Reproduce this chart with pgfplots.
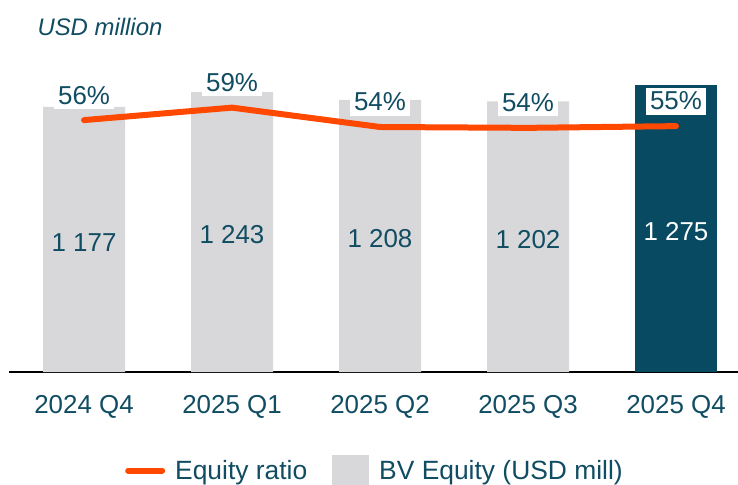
\documentclass[border=0pt]{standalone}
\usepackage{pgfplots}
\pgfplotsset{compat=1.18}
\usepackage{fontspec}
\setmainfont{Liberation Sans}
\definecolor{tealtxt}{RGB}{16,76,98}
\definecolor{darkbar}{RGB}{7,74,97}
\definecolor{graybar}{RGB}{216,216,218}
\definecolor{ratioline}{RGB}{255,72,0}
\begin{document}
\begin{tikzpicture}
\begin{axis}[
  at={(0,0)}, anchor=south west,
  scale only axis, width=729bp, height=300bp,
  xmin=-0.507, xmax=4.419, ymin=0, ymax=1332,
  enlargelimits=false, clip=false,
  axis x line*=bottom, axis y line=none,
  x axis line style={line width=2bp, black},
  xtick={0,1,2,3,4},
  xticklabels={2024 Q4,2025 Q1,2025 Q2,2025 Q3,2025 Q4},
  major tick length=0pt,
  xticklabel style={font=\fontsize{26}{30}\selectfont, text=tealtxt, anchor=base, yshift=-41bp},
  ytick=\empty,
  legend columns=2,
  legend style={at={(0.502,-0.337)}, anchor=center, draw=none, fill=none,
    font=\fontsize{26.5}{30}\selectfont, text=tealtxt,
    /tikz/every even column/.append style={column sep=23bp},
    /tikz/every odd column/.append style={column sep=8bp}},
]
\addlegendimage{legend image code/.code={\draw[line width=6bp, ratioline, line cap=round] (0bp,0bp) -- (34bp,0bp);}}
\addlegendentry{Equity ratio}
\addplot[ybar, bar shift=0pt, bar width=0.554, fill=graybar, draw=none,
  legend image code/.code={\fill[graybar] (0bp,-21bp) rectangle (37bp,16bp);},
  nodes near coords, point meta=explicit symbolic,
  visualization depends on={rawy/2 \as \halfy},
  every node near coord/.append style={anchor=center, shift={(axis direction cs:0,-\halfy)}, yshift=-3bp, text=tealtxt, font=\fontsize{26}{30}\selectfont}]
coordinates {(0,1177) [1 177] (1,1243) [1 243] (2,1208) [1 208] (3,1202) [1 202]};
\addlegendentry{BV Equity (USD mill)}
\addplot[ybar, bar shift=0pt, bar width=0.554, fill=darkbar, draw=none, forget plot,
  nodes near coords, point meta=explicit symbolic,
  visualization depends on={rawy/2 \as \halfy},
  every node near coord/.append style={anchor=center, shift={(axis direction cs:0,-\halfy)}, yshift=-3bp, text=white, font=\fontsize{26}{30}\selectfont}]
coordinates {(4,1275) [1 275]};
\node[anchor=base west, font=\itshape\fontsize{24}{28}\selectfont, text=tealtxt] at (rel axis cs:0.0343,1.1233) {USD million};
\end{axis}
\begin{axis}[
  at={(0,0)}, anchor=south west,
  scale only axis, width=729bp, height=300bp,
  xmin=-0.507, xmax=4.419, ymin=-2.88, ymax=66.89,
  enlargelimits=false, hide axis,
]
\addplot[ratioline, line width=6bp, line cap=round, line join=round, mark=none,
  nodes near coords, point meta=explicit symbolic,
  every node near coord/.append style={anchor=center, yshift=25bp, fill=white, inner sep=4.5bp, text=tealtxt, font=\fontsize{26}{30}\selectfont}]
coordinates {(0,55.7) [56\%] (1,58.6) [59\%] (2,54.1) [54\%] (3,53.9) [54\%] (4,54.3) [55\%]};
\end{axis}
\pgfresetboundingbox
\path[use as bounding box] (-9bp,-113bp) rectangle (729bp,372bp);
\end{tikzpicture}
\end{document}
